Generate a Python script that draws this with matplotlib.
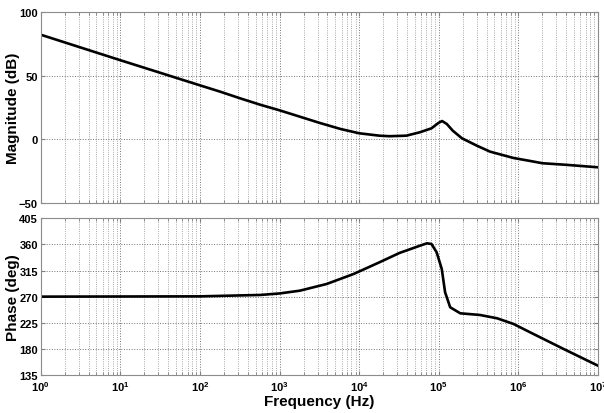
import numpy as np
import matplotlib.pyplot as plt
from matplotlib.ticker import FixedLocator, FixedFormatter, LogLocator, NullFormatter

plt.rcParams['font.family'] = ['Liberation Sans', 'DejaVu Sans']
plt.rcParams['font.weight'] = 'bold'
plt.rcParams['mathtext.fontset'] = 'custom'
plt.rcParams['mathtext.bf'] = 'Liberation Sans:bold'
plt.rcParams['mathtext.rm'] = 'Liberation Sans:bold'

# === data ======================================================

mag_freq = [1, 10, 100, 1.8e2, 3.2e2, 5.7e2, 1.0e3, 1.8e3, 3.2e3, 5.8e3,
            1.0e4, 1.8e4, 2.4e4, 3.9e4, 5.8e4, 8.1e4, 9.9e4, 1.1e5, 1.26e5,
            1.5e5, 1.95e5, 3.0e5, 4.4e5, 8.7e5, 1.4e6, 2.0e6, 3.7e6, 6.0e6, 1e7]
mag_db = [82, 62, 42.3, 37.3, 32.1, 27.1, 22.7, 17.7, 12.8, 8.1,
          4.7, 2.8, 2.4, 2.8, 5.5, 8.6, 12.8, 14.3, 12.0,
          6.7, 0.8, -5.0, -9.7, -14.7, -17.0, -18.8, -19.9, -20.9, -22]

ph_freq = [1, 100, 5.7e2, 1.0e3, 1.8e3, 3.9e3, 8.5e3, 1.8e4, 3.2e4, 5.8e4,
           7.1e4, 8.1e4, 9.4e4, 1.09e5, 1.2e5, 1.39e5, 1.86e5, 3.3e5, 5.4e5,
           8.7e5, 1.4e6, 3.7e6, 1e7]
ph_deg = [270, 270.5, 272.9, 275.5, 280.3, 291.8, 309, 329.2, 345.2, 357.8,
          361.9, 360.7, 346.4, 317.6, 277.5, 251.7, 241.3, 238.4, 232.7,
          222.9, 208.6, 179.8, 151]

decades = [0, 1, 2, 3, 4, 5, 6, 7]
mag_ticks = [-50, 0, 50, 100]
ph_ticks = [135, 180, 225, 270, 315, 360, 405]

# === figure ===============================

fig = plt.figure(figsize=(6.04, 4.14), dpi=100)
ax1 = fig.add_axes([0.0674, 0.5072, 0.9227, 0.462])
ax2 = fig.add_axes([0.0674, 0.0918, 0.9227, 0.3785])

ax1.semilogx(mag_freq, mag_db, color='k', lw=1.9)
ax2.semilogx(ph_freq, ph_deg, color='k', lw=1.9)

xt = [10.0 ** d for d in decades]
for ax in (ax1, ax2):
    ax.set_xlim(1, 1e7)
    ax.xaxis.set_major_locator(FixedLocator(xt))
    ax.xaxis.set_minor_locator(LogLocator(base=10, subs=np.arange(2, 10), numticks=20))
    ax.xaxis.set_minor_formatter(NullFormatter())
    ax.grid(True, which='major', linestyle=':', color='0.45', lw=0.7)
    ax.grid(True, which='minor', axis='x', linestyle=':', color='0.55', lw=0.6)
    ax.tick_params(which='both', direction='in', top=True, right=True,
                   color='0.5', labelsize=8, pad=2)
    ax.tick_params(which='major', length=3)
    ax.tick_params(which='minor', length=2)
    for s in ax.spines.values():
        s.set_color('0.55')

ax1.set_ylim(-50, 100)
ax1.set_yticks(mag_ticks)
ax1.set_xticklabels([])
ax1.set_ylabel('Magnitude (dB)', fontsize=11, fontweight='bold')
ax1.yaxis.set_label_coords(-0.038, 0.5)

ax2.set_ylim(135, 405)
ax2.set_yticks(ph_ticks)
ax2.xaxis.set_major_formatter(FixedFormatter([r'$\mathbf{10^{%d}}$' % d for d in decades]))
ax2.tick_params(axis='x', pad=3)
ax2.set_ylabel('Phase (deg)', fontsize=11, fontweight='bold')
ax2.yaxis.set_label_coords(-0.038, 0.5)
ax2.set_xlabel('Frequency (Hz)', fontsize=11, fontweight='bold', labelpad=1)

fig.savefig('out.png', dpi=100)
